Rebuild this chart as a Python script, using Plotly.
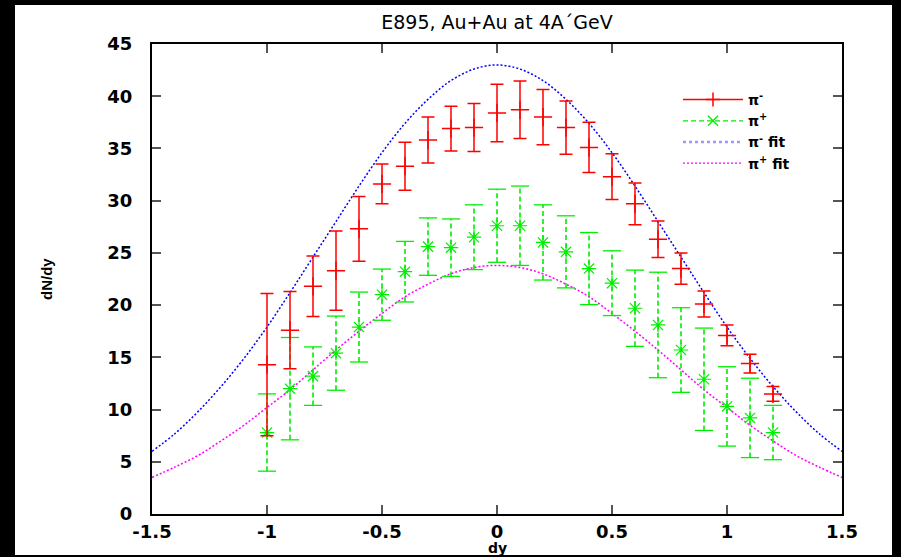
import plotly.graph_objects as go

# ---------------- data ----------------
dy_points = [-1.0, -0.9, -0.8, -0.7, -0.6, -0.5, -0.4, -0.3, -0.2, -0.1, 0.0,
             0.1, 0.2, 0.3, 0.4, 0.5, 0.6, 0.7, 0.8, 0.9, 1.0, 1.1, 1.2]

pim_vals = [14.3, 17.6, 21.8, 23.3, 27.3, 31.6, 33.3, 35.8, 36.9, 37.0, 38.4,
            38.7, 38.0, 37.0, 35.1, 32.3, 29.7, 26.3, 23.5, 20.1, 17.1, 14.4, 11.5]
pim_err = [6.8, 3.7, 2.9, 3.8, 3.1, 1.9, 2.3, 2.2, 2.15, 2.3, 2.75,
           2.75, 2.65, 2.55, 2.4, 2.2, 2.0, 1.75, 1.5, 1.25, 1.0, 0.9, 0.7]

pip_vals = [7.8, 12.0, 13.2, 15.4, 17.9, 21.0, 23.2, 25.6, 25.5, 26.5, 27.6,
            27.6, 26.0, 25.1, 23.5, 22.1, 19.7, 18.1, 15.7, 12.9, 10.3, 9.2, 7.8]
pip_err = [3.7, 4.9, 2.8, 3.55, 3.35, 2.45, 2.9, 2.75, 2.75, 3.1, 3.5,
           3.8, 3.6, 3.45, 3.45, 3.1, 3.65, 5.05, 4.05, 4.9, 3.8, 3.8, 2.6]

fit_x = [-1.5, -1.4, -1.3, -1.2, -1.1, -1.0, -0.9, -0.8, -0.7, -0.6, -0.5,
         -0.4, -0.3, -0.2, -0.1, 0.0, 0.1, 0.2, 0.3, 0.4, 0.5, 0.6, 0.7,
         0.8, 0.9, 1.0, 1.1, 1.2, 1.3, 1.4, 1.5]
pim_fit = [6.0, 7.7, 9.8, 12.2, 14.9, 17.9, 21.2, 24.6, 28.0, 31.4, 34.6,
           37.4, 39.7, 41.5, 42.6, 43.0, 42.6, 41.5, 39.7, 37.4, 34.6, 31.4,
           28.0, 24.6, 21.2, 17.9, 14.9, 12.2, 9.8, 7.7, 6.0]
pip_fit = [3.5, 4.5, 5.6, 7.0, 8.5, 10.2, 11.9, 13.8, 15.7, 17.5, 19.2,
           20.8, 22.0, 23.0, 23.6, 23.8, 23.6, 23.0, 22.0, 20.8, 19.2, 17.5,
           15.7, 13.8, 11.9, 10.2, 8.5, 7.0, 5.6, 4.5, 3.5]

x_ticks = [-1.5, -1.0, -0.5, 0.0, 0.5, 1.0, 1.5]
x_tick_text = ["-1.5", "-1", "-0.5", "0", "0.5", "1", "1.5"]
y_ticks = [0, 5, 10, 15, 20, 25, 30, 35, 40, 45]

title_text = "E895, Au+Au at 4A\u00b4GeV"
legend_names = ["<b>\u03c0<sup>-</sup></b>", "<b>\u03c0<sup>+</sup></b>",
                "<b>\u03c0<sup>-</sup> fit</b>", "<b>\u03c0<sup>+</sup> fit</b>"]

RED = "#ff0000"
GREEN = "#00ee00"
BLUE = "#0000ff"
MAGENTA = "#ff00ff"
FONT = "Liberation Sans, Arial, Helvetica, sans-serif"
WIDE = "DejaVu Sans, Liberation Sans, sans-serif"

fig = go.Figure()

# fit curves
fig.add_trace(go.Scatter(x=fit_x, y=pim_fit, mode="lines", line_shape="spline",
                         line=dict(color=BLUE, width=1.5, dash="2px,2px"),
                         name=legend_names[2], showlegend=False))
fig.add_trace(go.Scatter(x=fit_x, y=pip_fit, mode="lines", line_shape="spline",
                         line=dict(color=MAGENTA, width=1.5, dash="2px,2px"),
                         name=legend_names[3], showlegend=False))

# pi+ : dashed error bars built from the data
seg_x, seg_y = [], []
for xv, yv, ev in zip(dy_points, pip_vals, pip_err):
    seg_x += [xv, xv, None]
    seg_y += [yv - ev, yv + ev, None]
fig.add_trace(go.Scatter(x=seg_x, y=seg_y, mode="lines",
                         line=dict(color=GREEN, width=1.6, dash="5px,3px"),
                         showlegend=False, hoverinfo="skip"))
cap_x = dy_points + dy_points
cap_y = [v - e for v, e in zip(pip_vals, pip_err)] + [v + e for v, e in zip(pip_vals, pip_err)]
fig.add_trace(go.Scatter(x=cap_x, y=cap_y, mode="markers",
                         marker=dict(symbol="line-ew-open", size=13, color=GREEN,
                                     line=dict(color=GREEN, width=1.3)),
                         showlegend=False, hoverinfo="skip"))
fig.add_trace(go.Scatter(x=dy_points, y=pip_vals, mode="markers",
                         marker=dict(symbol="asterisk-open", size=12, color=GREEN,
                                     line=dict(color=GREEN, width=1.2)),
                         showlegend=False))

# pi- : solid error bars
fig.add_trace(go.Scatter(x=dy_points, y=pim_vals, mode="markers",
                         marker=dict(symbol="cross-thin-open", size=13, color=RED,
                                     line=dict(color=RED, width=1.5)),
                         error_y=dict(type="data", array=pim_err, visible=True,
                                      color=RED, thickness=1.5, width=6.5),
                         showlegend=False))

# legend entries
fig.add_trace(go.Scatter(x=[None], y=[None], mode="lines+markers", name=legend_names[0],
                         line=dict(color=RED, width=1.5),
                         marker=dict(symbol="cross-thin-open", size=10, color=RED,
                                     line=dict(color=RED, width=1.5))))
fig.add_trace(go.Scatter(x=[None], y=[None], mode="lines+markers", name=legend_names[1],
                         line=dict(color=GREEN, width=1.3, dash="5px,3px"),
                         marker=dict(symbol="x-thin-open", size=10, color=GREEN,
                                     line=dict(color=GREEN, width=1.3))))
fig.add_trace(go.Scatter(x=[None], y=[None], mode="lines", name=legend_names[2],
                         line=dict(color="#9999ff", width=2.5, dash="3px,3px")))
fig.add_trace(go.Scatter(x=[None], y=[None], mode="lines", name=legend_names[3],
                         line=dict(color=MAGENTA, width=1.2, dash="2px,2px")))

axis_common = dict(showgrid=False, zeroline=False, showline=True, linecolor="black",
                   linewidth=2, mirror="ticks", ticks="inside", ticklen=9,
                   tickwidth=1.5, tickcolor="#555555",
                   tickfont=dict(family=WIDE, size=18, color="black", weight="bold"))

fig.update_layout(
    width=901, height=557,
    margin=dict(l=152, r=59, t=44, b=43),
    paper_bgcolor="black",
    plot_bgcolor="white",
    font=dict(family=FONT, color="black"),
    title=dict(text=title_text, x=0.5, xref="paper", y=1 - 22 / 557, yref="container",
               xanchor="center", yanchor="middle",
               font=dict(family=WIDE, size=19, color="black")),
    xaxis=dict(range=[-1.5, 1.5], tickvals=x_ticks, ticktext=x_tick_text,
               ticklabelstandoff=0, **axis_common),
    yaxis=dict(range=[0, 45], tickvals=y_ticks, ticklabelstandoff=14, **axis_common),
    legend=dict(x=(678 - 152) / 690, y=(514 - 84) / 470, xanchor="left", yanchor="top",
                bgcolor="rgba(0,0,0,0)", borderwidth=0, tracegroupgap=0,
                itemwidth=60,
                font=dict(family=WIDE, size=14, color="black")),
    shapes=[dict(type="rect", xref="paper", yref="paper", layer="below",
                 x0=(15 - 152) / 690, x1=(892 - 152) / 690,
                 y0=(514 - 555) / 470, y1=(514 - 5) / 470,
                 fillcolor="white", line=dict(width=0))],
    annotations=[
        dict(text="<b>dN/dy</b>", xref="paper", yref="paper",
             x=(46 - 152) / 690, y=0.5, textangle=-90, showarrow=False,
             xanchor="center", yanchor="middle",
             font=dict(family=FONT, size=15, color="black")),
        dict(text="<b>dy</b>", xref="paper", yref="paper",
             x=0.5, y=(514 - 548) / 470, showarrow=False,
             xanchor="center", yanchor="middle",
             font=dict(family=WIDE, size=14, color="black")),
    ],
)

fig.write_html("out.html", config={"displayModeBar": False},
               post_script="document.body.style.margin='0';")
